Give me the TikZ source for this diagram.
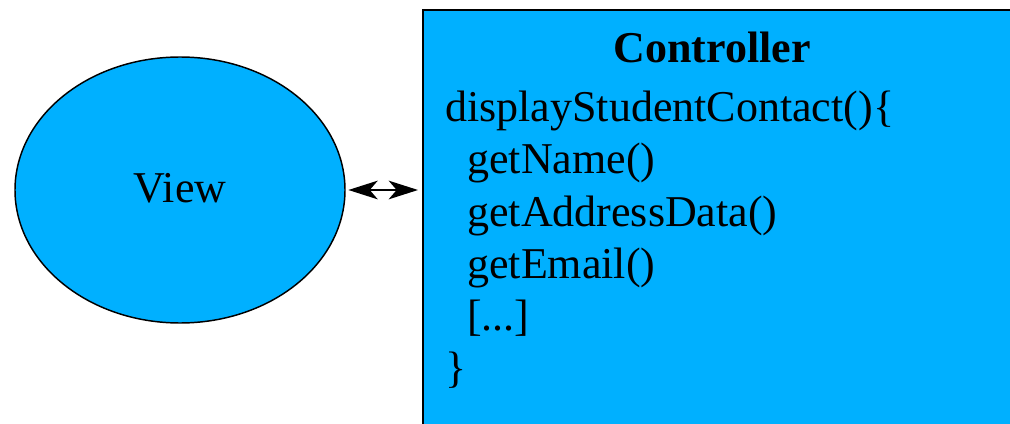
\documentclass[tikz,border=0pt]{standalone}
\usepackage{fontspec}
\setmainfont{Liberation Serif}
\usetikzlibrary{arrows.meta,shapes.geometric}
\definecolor{mvcblue}{RGB}{0,176,255}
\begin{document}
\begin{tikzpicture}[x=0.75pt,y=-0.75pt,
  part/.style={draw=black, fill=mvcblue, inner sep=0pt},
  label text/.style={inner sep=0pt, font=\fontsize{33}{39}\selectfont},
  codeline/.style={label text, anchor=base west},
  link/.style={{Stealth[length=22pt,width=14pt,inset=6pt]}-{Stealth[length=22pt,width=14pt,inset=6pt]},
    line width=1.2pt, shorten <=2pt, shorten >=3pt}]
\useasboundingbox (0,0) rectangle (1010,424);
\clip (0,0) rectangle (1010,424);

% the view
\node[part, ellipse, line width=1.1pt, minimum width=247.5pt, minimum height=199.5pt]
  (view) at (180,190) {};
\node[label text, anchor=base] (viewtext) at (180,203) {View};

% the controller, running off the right and bottom edges
\node[part, rectangle, line width=1.5pt, anchor=north west,
  minimum width=525pt, minimum height=337.5pt] (ctrl) at (422,9) {};
\node[label text, anchor=base, font=\fontsize{33}{39}\selectfont\bfseries]
  (ctrltitle) at (712,63) {Controller};
\node[codeline] (l1) at (445,122) {displayStudentContact()\{};
\node[codeline] (l2) at (467,174) {getName()};
\node[codeline] (l3) at (467,226) {getAddressData()};
\node[codeline] (l4) at (467,278) {getEmail()};
\node[codeline] (l5) at (467,330) {[...]};
\node[codeline] (l6) at (445,382) {\}};

% two-way link between view and controller
\draw[link] (view.east) -- (view.east -| ctrl.west);
\end{tikzpicture}
\end{document}
